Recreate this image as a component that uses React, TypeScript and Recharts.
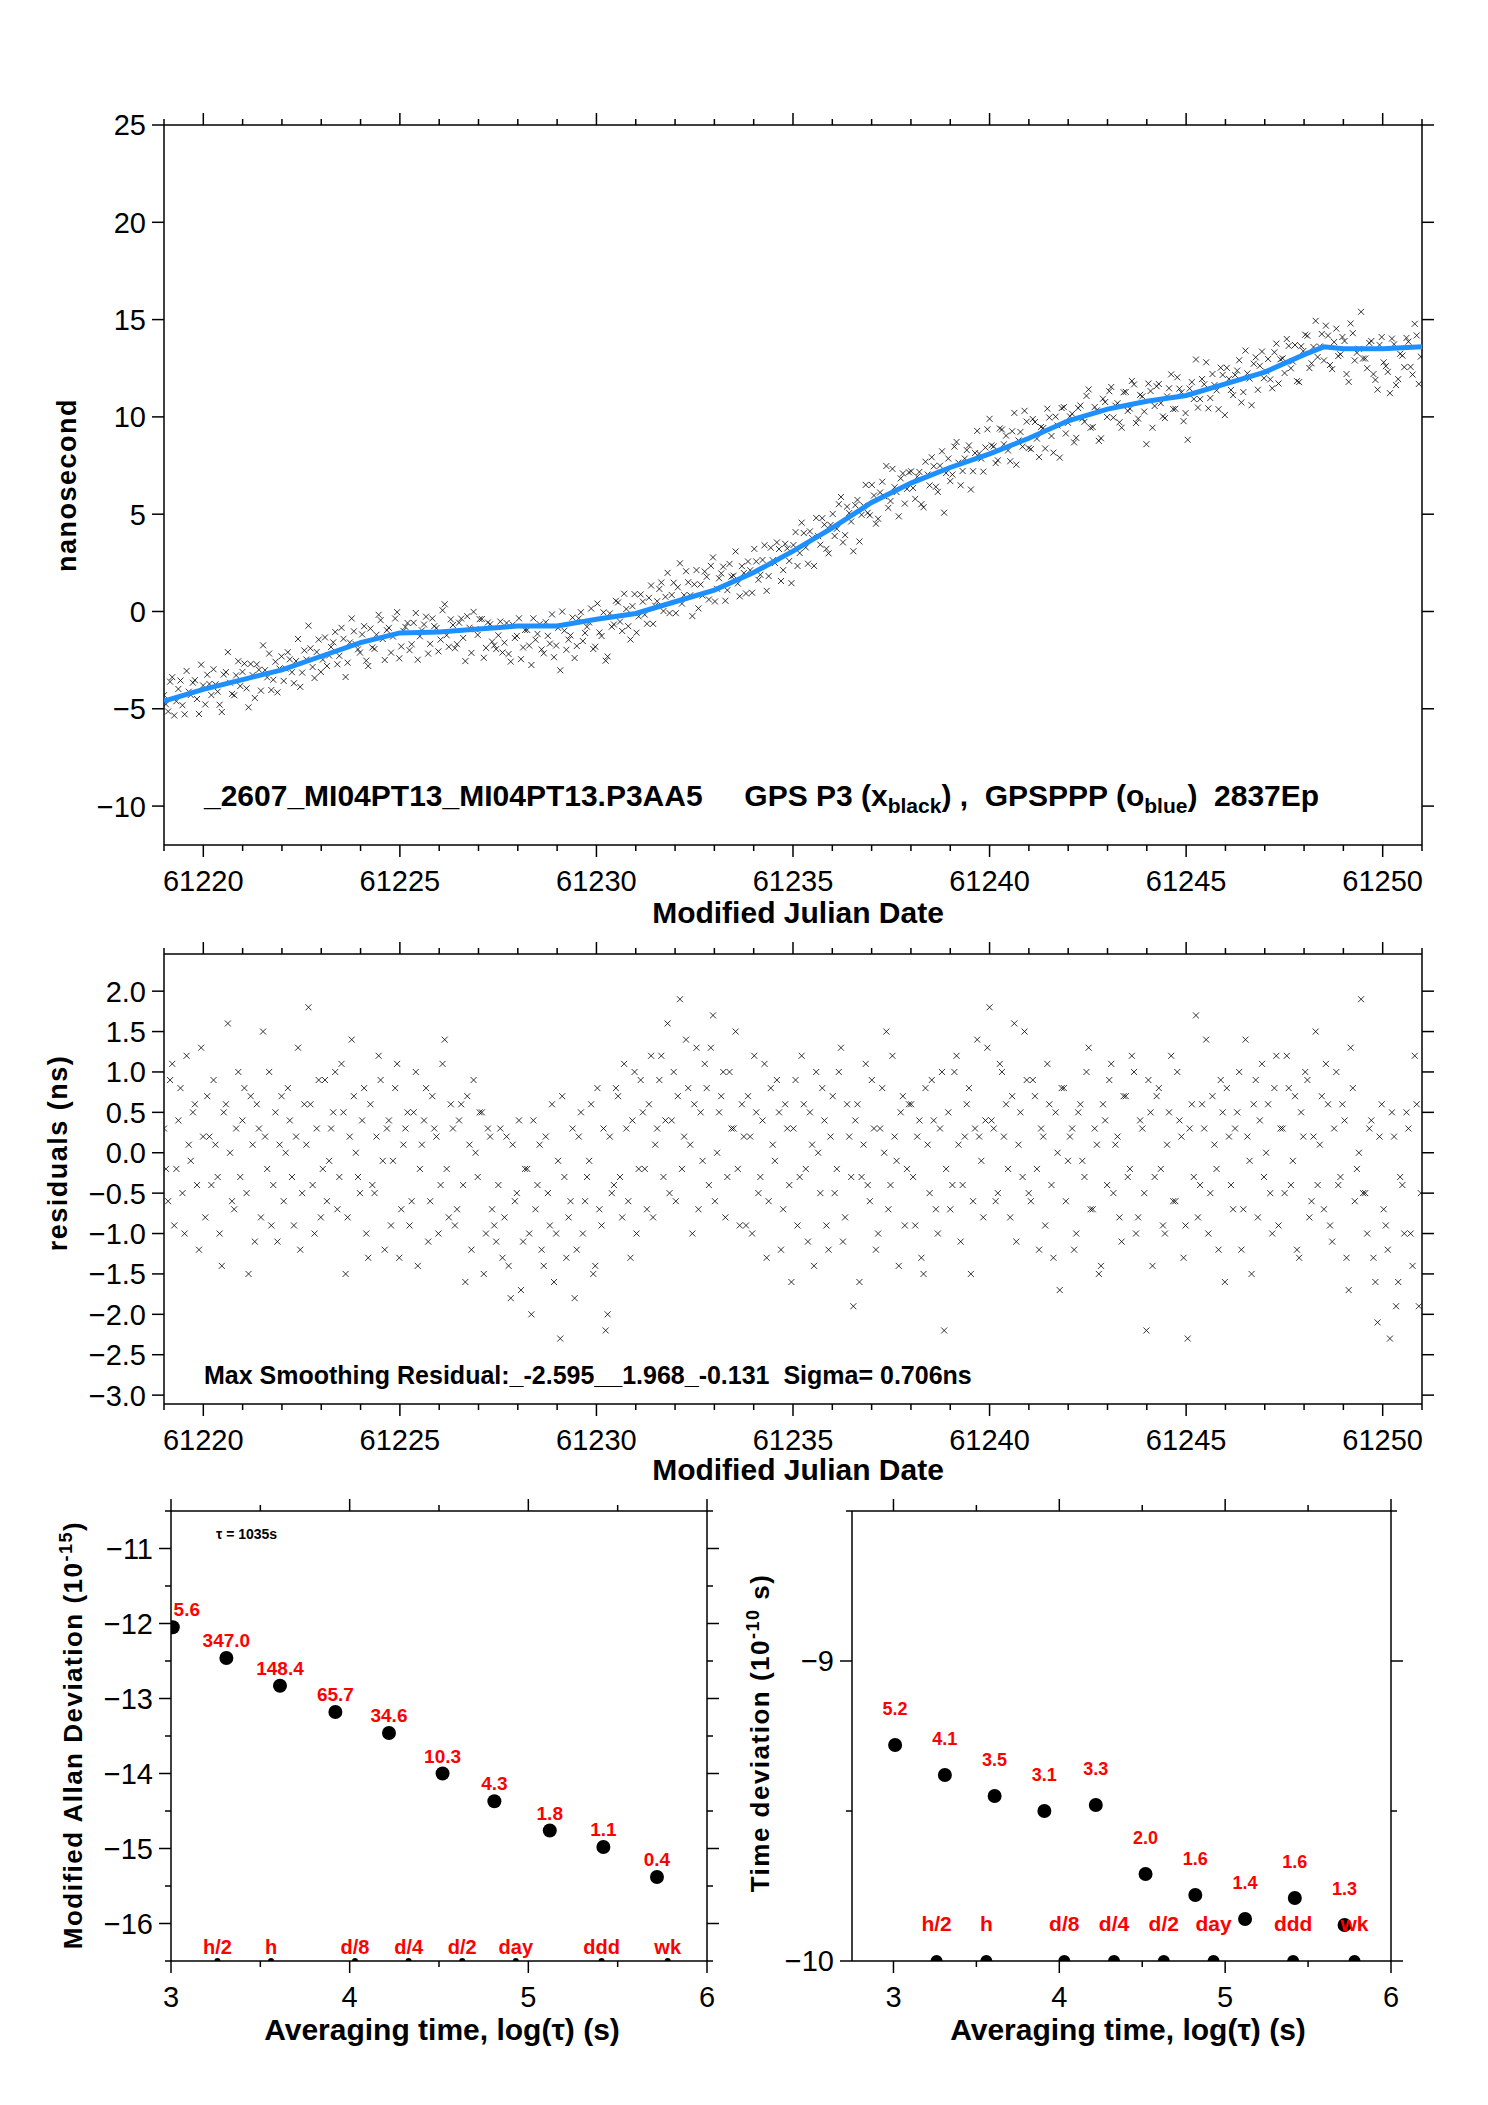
import React from 'react';
import { ScatterChart, Scatter, XAxis, YAxis } from 'recharts';

const FONT = '"Liberation Sans", Arial, sans-serif';

// smoothed (blue) curve knots: MJD, ns
const smoothX = [61219, 61220, 61221, 61222, 61223, 61224, 61225, 61226, 61227, 61228, 61229, 61230, 61231, 61232, 61233, 61234, 61235, 61236, 61237, 61238, 61239, 61240, 61241, 61242, 61243, 61244, 61245, 61246, 61247, 61248, 61248.5, 61249, 61250, 61251];
const smoothY = [-4.6, -4.0, -3.5, -3.0, -2.3, -1.6, -1.1, -1.05, -0.9, -0.75, -0.75, -0.4, -0.1, 0.5, 1.1, 2.0, 3.1, 4.3, 5.6, 6.6, 7.4, 8.1, 8.9, 9.8, 10.4, 10.8, 11.1, 11.7, 12.3, 13.2, 13.6, 13.5, 13.5, 13.6];

// residuals (ns), two interleaved sample sets
const resid = [
  0.3,-0.6,1.1,-0.2,0.8,-1.0,0.1,0.5,-0.4,1.3,
  -0.8,0.2,0.9,-0.3,-1.4,0.6,0.0,-0.7,1.0,0.4,
  -0.5,0.7,-1.1,0.3,1.5,-0.2,-0.9,0.5,0.1,-0.6,
  0.8,-0.3,0.2,-1.2,0.6,1.8,-0.4,0.3,-0.8,0.9,
  -0.1,0.5,-0.7,1.1,-1.5,0.2,0.7,-0.3,0.4,-1.0,
  0.6,-0.5,1.2,-0.1,0.3,-0.9,0.8,-1.3,0.1,0.5,
  -0.6,1.0,-0.2,0.4,-1.1,0.7,0.2,-0.4,1.4,-0.8,
  0.3,-0.7,0.6,-1.6,0.1,0.9,-0.3,0.5,-1.0,0.2,
  -0.9,-0.4,-1.3,0.2,-1.8,-0.6,0.4,-1.1,-0.2,-2.0,
  -0.7,0.1,-1.4,-0.5,0.6,-1.0,-2.3,-0.3,-0.8,0.3,
  -1.2,0.5,-0.6,-0.1,-1.5,0.8,-0.9,-2.2,0.2,-0.4,
  0.7,-0.8,0.3,-1.3,1.0,-0.2,0.5,-0.7,1.2,0.1,
  0.9,-0.3,1.6,0.4,-0.6,1.9,0.2,0.8,-1.0,1.3,
  0.5,1.1,-0.4,1.7,0.0,0.7,-0.8,1.0,0.3,-0.2,
  0.6,-0.9,0.2,1.2,-0.5,0.4,-1.3,0.8,-0.1,0.5,
  -0.7,0.3,-1.6,0.9,-0.3,0.6,-1.1,0.1,1.0,-0.5,
  0.4,-1.2,0.7,-0.2,1.3,-0.8,0.2,-1.9,0.6,-0.3,
  1.1,-0.6,0.3,-1.0,0.8,1.5,-0.4,0.2,-1.4,0.7,
  -0.2,0.6,-0.9,0.4,-1.5,0.1,0.9,-0.7,0.3,-2.2,
  0.5,-0.4,1.2,-1.1,0.2,0.8,-0.6,1.4,-0.1,0.4,
  1.8,0.3,-0.5,1.0,0.6,-0.8,1.6,0.1,-0.3,0.9,
  -0.6,0.7,-1.2,0.2,1.1,-0.4,0.5,-1.7,0.8,-0.1,
  0.3,-1.0,0.6,-0.3,1.3,-0.7,0.1,-1.4,0.4,0.9,
  -0.5,0.2,-1.1,0.7,-0.2,1.0,-0.8,0.3,-2.2,0.5,
  -0.3,0.8,-0.9,0.1,1.2,-0.6,0.4,-1.3,-2.3,0.6,
  1.7,-0.4,0.3,-1.0,0.7,-0.2,0.9,-1.6,0.2,-0.7,
  0.5,-1.2,1.4,-0.1,0.6,-0.8,1.1,0.0,-0.5,0.8,
  -0.9,0.3,1.2,-0.4,0.7,-1.3,0.2,0.9,-0.6,1.5,
  0.1,-0.7,0.6,-1.1,1.0,-0.3,0.4,-1.7,0.8,-0.2,
  1.9,-0.5,0.3,-1.3,-2.1,0.6,-0.9,-2.3,0.2,-1.6,
  -0.4,0.5,-1.0,1.2,-1.9,
];
const resid2 = [
  -0.2,0.9,-0.9,0.4,-0.5,1.2,-0.1,0.6,-1.2,0.2,
  0.7,-0.4,0.1,-1.0,0.5,1.6,-0.6,0.3,-0.3,0.8,
  -1.5,0.1,0.6,-0.8,0.2,1.0,-0.4,-1.1,0.7,0.0,
  0.4,-0.9,1.3,-0.5,0.1,0.6,-1.0,0.9,-0.2,-0.6,
  0.3,1.0,-0.3,0.5,-0.8,1.4,0.0,-0.5,0.8,-1.3,
  -0.4,0.2,0.9,-1.2,0.4,-0.1,1.1,-0.7,0.3,-0.9,
  0.5,-1.4,0.1,0.8,-0.6,0.3,-1.0,1.1,-0.2,0.6,
  -0.9,0.4,-0.4,0.7,-1.2,0.0,0.5,-1.5,0.3,-0.7,
  -1.1,0.3,-0.8,-1.4,0.1,-0.5,-1.7,-0.2,-1.0,0.4,
  -0.4,-1.2,0.2,-0.9,-1.6,-0.1,0.7,-1.3,-0.6,-1.8,
  0.2,-1.0,-0.3,0.6,-1.4,-0.7,0.3,-2.0,-0.5,0.8,
  -0.3,1.1,-0.6,0.4,-1.0,0.9,-0.2,0.6,-0.8,0.3,
  1.2,0.4,-0.5,1.0,0.7,-0.2,1.4,0.1,0.6,-0.7,
  -0.1,0.8,1.3,-0.6,0.5,1.0,-0.3,0.3,1.5,-0.9,
  0.2,0.7,-1.0,0.5,-0.3,1.1,-0.6,0.1,0.9,-1.2,
  0.6,-0.4,0.3,-0.9,1.2,-0.2,0.5,-1.4,0.0,0.8,
  -0.9,0.2,-0.5,1.0,-1.1,0.6,-0.3,0.4,-1.6,0.1,
  -0.4,0.9,-1.2,0.3,0.0,-0.7,1.2,-0.1,0.5,-0.9,
  0.6,-0.3,0.2,-1.3,0.8,-0.5,0.4,-1.0,1.0,-0.2,
  -0.7,1.0,0.1,-0.4,0.6,-1.5,0.3,0.2,-0.8,1.3,
  0.4,-0.6,1.1,0.2,-0.2,0.7,-1.1,0.5,1.5,-0.5,
  0.9,-0.2,0.3,-0.9,0.6,-1.3,0.0,0.8,-0.6,0.2,
  -1.2,0.5,-0.1,1.0,-0.7,0.3,-1.5,0.6,-0.4,1.1,
  0.1,-0.8,0.7,-0.3,1.2,-1.0,0.4,-0.5,0.9,-1.4,
  0.7,-0.2,-1.0,0.5,-0.6,1.0,0.2,-0.9,0.3,-0.3,
  -0.8,0.6,1.4,-0.5,0.1,-1.2,0.5,0.8,-0.4,0.3,
  1.0,-0.7,0.2,-1.5,0.9,0.4,-0.3,0.6,-1.0,1.2,
  0.3,-0.5,0.8,-0.1,-1.2,0.5,1.0,-0.8,0.2,-0.4,
  0.7,1.1,-0.9,0.3,-0.4,0.6,-1.3,1.3,-0.6,0.0,
  -0.5,-1.0,0.4,-1.6,0.2,-0.7,-1.2,0.5,-1.9,-0.3,
  -1.0,0.3,-1.4,0.6,-0.5,
];
const RES_START = 61219.0;
const RES_START2 = 61219.05;
const RES_STEP = 0.105;

const mjdMajor = [61220, 61225, 61230, 61235, 61240, 61245, 61250];
const mjdTicks = [61219,61220,61221,61222,61223,61224,61225,61226,61227,61228,61229,61230,61231,61232,61233,61234,61235,61236,61237,61238,61239,61240,61241,61242,61243,61244,61245,61246,61247,61248,61249,61250,61251];
const nsTicks = [-10, -5, 0, 5, 10, 15, 20, 25];
const resTicks = [-3.0, -2.5, -2.0, -1.5, -1.0, -0.5, 0.0, 0.5, 1.0, 1.5, 2.0];

// Modified Allan deviation (log10)
const madevX = [3.01, 3.31, 3.61, 3.92, 4.22, 4.52, 4.81, 5.12, 5.42, 5.72];
const madevY = [-12.05, -12.46, -12.83, -13.18, -13.46, -14.0, -14.37, -14.76, -14.98, -15.38];
const madevLbl = ['5.6', '347.0', '148.4', '65.7', '34.6', '10.3', '4.3', '1.8', '1.1', '0.4'];
// Time deviation (log10)
const tdevX = [3.01, 3.31, 3.61, 3.91, 4.22, 4.52, 4.82, 5.12, 5.42, 5.72];
const tdevY = [-9.28, -9.38, -9.45, -9.5, -9.48, -9.71, -9.78, -9.86, -9.79, -9.88];
const tdevLbl = ['5.2', '4.1', '3.5', '3.1', '3.3', '2.0', '1.6', '1.4', '1.6', '1.3'];
// reference time markers
const markX = [3.26, 3.56, 4.03, 4.33, 4.63, 4.93, 5.41, 5.78];
const markLbl = ['h/2', 'h', 'd/8', 'd/4', 'd/2', 'day', 'ddd', 'wk'];
const logMajor = [3, 4, 5, 6];
const logTicks = [3, 3.5, 4, 4.5, 5, 5.5, 6];
const madevMajor = [-16, -15, -14, -13, -12, -11];
const madevTicks = [-16.5, -16, -15.5, -15, -14.5, -14, -13.5, -13, -12.5, -12, -11.5, -11, -10.5];
const tdevMajor = [-10, -9];
const tdevTicks = [-10, -9.5, -9, -8.5];

function smoothAt(x: number) {
  for (let i = 0; i < smoothX.length - 1; i++) {
    if (x >= smoothX[i] && x <= smoothX[i + 1]) {
      const t = (x - smoothX[i]) / (smoothX[i + 1] - smoothX[i]);
      return smoothY[i] + t * (smoothY[i + 1] - smoothY[i]);
    }
  }
  return smoothY[smoothY.length - 1];
}

const residData = [
  ...resid.map((r, i) => ({ x: RES_START + i * RES_STEP, y: r })),
  ...resid2.map((r, i) => ({ x: RES_START2 + i * RES_STEP, y: r })),
];
const topData = residData.map((d) => ({ x: d.x, y: smoothAt(d.x) + d.y }));
const smoothData = smoothX.map((x, i) => ({ x, y: smoothY[i] }));
const madevData = madevX.map((x, i) => ({ x, y: madevY[i], label: madevLbl[i], dx: i === 0 ? 14 : 0 }));
const tdevData = tdevX.map((x, i) => ({ x, y: tdevY[i], label: tdevLbl[i], dx: 0 }));
const madevMarks = markX.map((x, i) => ({ x, y: -16.5, label: markLbl[i], dx: 0 }));
const tdevMarks = markX.map((x, i) => ({ x, y: -10, label: markLbl[i], dx: 0 }));

const fmtNum = (v: number, dec: number) => {
  const s = dec > 0 ? v.toFixed(dec) : String(v);
  return s.replace('-', '\u2212');
};

function makeTick(side: string, majors: number[], dec: number, label: boolean, fs = 29) {
  return (p: any) => {
    const { x, y, payload } = p;
    const v = payload.value;
    const major = majors.some((m) => Math.abs(m - v) < 1e-9);
    const len = major ? 12 : 6;
    const txt = label && major ? fmtNum(v, dec) : null;
    if (side === 'bottom')
      return (
        <g>
          <line x1={x} y1={y} x2={x} y2={y + len} stroke="#000" strokeWidth={1.5} />
          {txt && <text x={x} y={y + 25 + fs * 0.72} textAnchor="middle" fontSize={fs} fontFamily={FONT} fill="#000">{txt}</text>}
        </g>
      );
    if (side === 'top')
      return <line x1={x} y1={y} x2={x} y2={y - len} stroke="#000" strokeWidth={1.5} />;
    if (side === 'left')
      return (
        <g>
          <line x1={x} y1={y} x2={x - len} y2={y} stroke="#000" strokeWidth={1.5} />
          {txt && <text x={x - 18} y={y + fs * 0.36} textAnchor="end" fontSize={fs} fontFamily={FONT} fill="#000">{txt}</text>}
        </g>
      );
    return <line x1={x} y1={y} x2={x + len} y2={y} stroke="#000" strokeWidth={1.5} />;
  };
}

const XShape = (p: any) => {
  const { cx, cy } = p;
  if (cx == null) return null;
  const s = 3;
  return <path d={`M${cx - s},${cy - s}L${cx + s},${cy + s}M${cx - s},${cy + s}L${cx + s},${cy - s}`} stroke="#000" strokeWidth={0.8} />;
};
const NoShape = () => null;

const dotLabel = (r: number, off: number, fs: number) => (p: any) => {
  const { cx, cy, payload } = p;
  return (
    <g>
      <circle cx={cx} cy={cy} r={r} fill="#000" />
      <text x={cx + (payload.dx || 0)} y={cy - off} textAnchor="middle" fontSize={fs} fontWeight="bold" fontFamily={FONT} fill="#ff0000">{payload.label}</text>
    </g>
  );
};

const axStyle = { stroke: '#000', strokeWidth: 1.5 };

function Frame(props: any) {
  const { xd, xt, xm, yd, yt, ym, ydec, xdec } = props;
  return [
    <XAxis key="xb" xAxisId={0} type="number" dataKey="x" domain={xd} ticks={xt} interval={0} allowDataOverflow axisLine={axStyle} tickLine={false} tickSize={0} tickMargin={0} height={10} tick={makeTick('bottom', xm, xdec, true)} />,
    <XAxis key="xt" xAxisId="t" orientation="top" type="number" dataKey="x" domain={xd} ticks={xt} interval={0} allowDataOverflow axisLine={axStyle} tickLine={false} tickSize={0} tickMargin={0} height={10} tick={makeTick('top', xm, xdec, false)} />,
    <YAxis key="yl" yAxisId={0} type="number" dataKey="y" domain={yd} ticks={yt} interval={0} allowDataOverflow axisLine={axStyle} tickLine={false} tickSize={0} tickMargin={0} width={10} tick={makeTick('left', ym, ydec, true)} />,
    <YAxis key="yr" yAxisId="r" orientation="right" type="number" dataKey="y" domain={yd} ticks={yt} interval={0} allowDataOverflow axisLine={axStyle} tickLine={false} tickSize={0} tickMargin={0} width={10} tick={makeTick('right', ym, ydec, false)} />,
  ];
}

const abs = (l: number, t: number, extra: any = {}) => ({ position: 'absolute' as const, left: l, top: t, fontFamily: FONT, whiteSpace: 'nowrap' as const, ...extra });
const rotTitle = (cx: number, cy: number, text: any, fs: number) => (
  <div style={abs(cx, cy, { fontSize: fs, fontWeight: 'bold', transform: 'translate(-50%,-50%) rotate(-90deg)', letterSpacing: '1.5px' })}>{text}</div>
);
const hTitle = (cx: number, cy: number, text: any, fs: number) => (
  <div style={abs(cx, cy, { fontSize: fs, fontWeight: 'bold', transform: 'translate(-50%,-50%)' })}>{text}</div>
);

export default function App() {
  return (
    <div style={{ position: 'absolute', left: 0, top: 0, width: 1488, height: 2105, background: '#fff', overflow: 'hidden' }}>
      <div style={{ position: 'absolute', left: 0, top: 0 }}>
        <ScatterChart width={1488} height={930} margin={{ top: 115, bottom: 75, left: 154, right: 56 }}>
          {Frame({ xd: [61219, 61251], xt: mjdTicks, xm: mjdMajor, xdec: 0, yd: [-12, 25], yt: nsTicks, ym: nsTicks, ydec: 0 })}
          <Scatter data={topData} shape={XShape} isAnimationActive={false} />
          <Scatter data={smoothData} shape={NoShape} line={{ stroke: '#1e8fff', strokeWidth: 5 }} isAnimationActive={false} />
        </ScatterChart>
      </div>
      <div style={{ position: 'absolute', left: 0, top: 930 }}>
        <ScatterChart width={1488} height={560} margin={{ top: 14, bottom: 76, left: 154, right: 56 }}>
          {Frame({ xd: [61219, 61251], xt: mjdTicks, xm: mjdMajor, xdec: 0, yd: [-3.11, 2.46], yt: resTicks, ym: resTicks, ydec: 1 })}
          <Scatter data={residData} shape={XShape} isAnimationActive={false} />
        </ScatterChart>
      </div>
      <div style={{ position: 'absolute', left: 0, top: 1490 }}>
        <ScatterChart width={760} height={615} margin={{ top: 11, bottom: 134, left: 161, right: 43 }}>
          {Frame({ xd: [3, 6], xt: logTicks, xm: logMajor, xdec: 0, yd: [-16.5, -10.5], yt: madevTicks, ym: madevMajor, ydec: 0 })}
          <Scatter data={madevData} shape={dotLabel(7, 11, 19)} isAnimationActive={false} />
          <Scatter data={madevMarks} shape={dotLabel(3, 7, 20)} isAnimationActive={false} />
        </ScatterChart>
      </div>
      <div style={{ position: 'absolute', left: 760, top: 1490 }}>
        <ScatterChart width={728} height={615} margin={{ top: 11, bottom: 134, left: 82, right: 87 }}>
          {Frame({ xd: [2.75, 6], xt: logTicks, xm: logMajor, xdec: 0, yd: [-10, -8.5], yt: tdevTicks, ym: tdevMajor, ydec: 0 })}
          <Scatter data={tdevData} shape={dotLabel(7, 30, 18)} isAnimationActive={false} />
          <Scatter data={tdevMarks} shape={dotLabel(6, 30, 21)} isAnimationActive={false} />
        </ScatterChart>
      </div>

      {rotTitle(67, 485, 'nanosecond', 27)}
      {hTitle(798, 913, 'Modified Julian Date', 30)}
      <div style={abs(204, 800, { fontSize: 30, fontWeight: 'bold', transform: 'translateY(-55%)' })}>
        _2607_MI04PT13_MI04PT13.P3AA5&nbsp;&nbsp;&nbsp;&nbsp; GPS P3 (x<sub style={{ fontSize: 21 }}>black</sub>) ,&nbsp; GPSPPP (o<sub style={{ fontSize: 21 }}>blue</sub>)&nbsp; 2837Ep
      </div>

      {rotTitle(58, 1153, 'residuals (ns)', 27)}
      {hTitle(798, 1470, 'Modified Julian Date', 30)}
      <div style={abs(204, 1375, { fontSize: 25, fontWeight: 'bold', transform: 'translateY(-50%)' })}>
        Max Smoothing Residual:_-2.595__1.968_-0.131&nbsp; Sigma= 0.706ns
      </div>

      <div style={abs(216, 1534, { fontSize: 14, fontWeight: 'bold', transform: 'translateY(-50%)' })}>τ = 1035s</div>
      {rotTitle(72, 1735, <span>Modified Allan Deviation (10<sup style={{ fontSize: 18 }}>-15</sup>)</span>, 26)}
      {rotTitle(759, 1733, <span>Time deviation (10<sup style={{ fontSize: 18 }}>-10</sup> s)</span>, 26)}
      {hTitle(442, 2030, 'Averaging time, log(τ) (s)', 30)}
      {hTitle(1128, 2030, 'Averaging time, log(τ) (s)', 30)}
    </div>
  );
}
